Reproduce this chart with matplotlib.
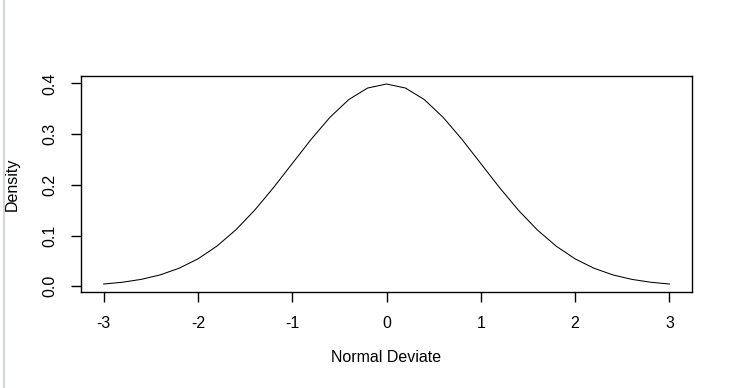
import matplotlib
matplotlib.use("Agg")
import matplotlib.pyplot as plt
from matplotlib.lines import Line2D

plt.rcParams['font.family'] = ['Liberation Sans', 'DejaVu Sans']

# normal deviate and density values, step 0.2
x = [-3.0, -2.8, -2.6, -2.4, -2.2, -2.0, -1.8, -1.6, -1.4, -1.2, -1.0,
     -0.8, -0.6, -0.4, -0.2, 0.0, 0.2, 0.4, 0.6, 0.8, 1.0,
     1.2, 1.4, 1.6, 1.8, 2.0, 2.2, 2.4, 2.6, 2.8, 3.0]
dens = [0.0044, 0.0079, 0.0136, 0.0224, 0.0355, 0.0540, 0.0790, 0.1109,
        0.1497, 0.1942, 0.2420, 0.2897, 0.3332, 0.3683, 0.3910, 0.3989,
        0.3910, 0.3683, 0.3332, 0.2897, 0.2420, 0.1942, 0.1497, 0.1109,
        0.0790, 0.0540, 0.0355, 0.0224, 0.0136, 0.0079, 0.0044]
xticks = [-3, -2, -1, 0, 1, 2, 3]
yticks = [0.0, 0.1, 0.2, 0.3, 0.4]

fig = plt.figure(figsize=(7.32, 3.88), dpi=100)
ax = fig.add_axes([0.1107, 0.2474, 0.8347, 0.5567])
ax.plot(x, dens, color='black', lw=0.75)

xr = max(x) - min(x)
ax.set_xlim(min(x) - 0.04 * xr, max(x) + 0.04 * xr)
yr = max(dens) - min(dens)
ax.set_ylim(min(dens) - 0.04 * yr, max(dens) + 0.04 * yr)

ax.set_xticks(xticks)
ax.set_xticklabels([str(t) for t in xticks])
ax.set_yticks(yticks)
ax.set_yticklabels(['%.1f' % t for t in yticks], rotation=90, va='center')
ax.tick_params(length=7, width=1, labelsize=11.5, direction='out', pad=10)
for s in ax.spines.values():
    s.set_linewidth(1)

ax.set_xlabel('Normal Deviate', fontsize=11.5, labelpad=14)
ax.set_ylabel('Density', fontsize=11.5, labelpad=16)

fig.add_artist(Line2D([3.5 / 732, 3.5 / 732], [0, 1], color='#d4d8de', lw=1.5))

fig.savefig('out.png', dpi=100)
